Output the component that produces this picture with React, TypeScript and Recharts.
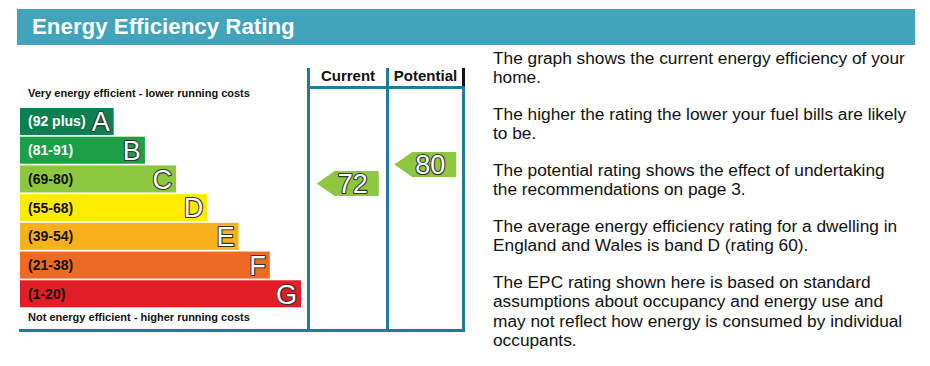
import React from 'react';
import { BarChart, Bar, XAxis, YAxis, ScatterChart, Scatter } from 'recharts';

// bands, best to worst
const bandLetters = ['A', 'B', 'C', 'D', 'E', 'F', 'G'];
const bandRanges = ['(92 plus)', '(81-91)', '(69-80)', '(55-68)', '(39-54)', '(21-38)', '(1-20)'];
const bandMin = [92, 81, 69, 55, 39, 21, 1];
const bandMax = [100, 91, 80, 68, 54, 38, 20];
const bandLength = [30, 40, 50, 60, 70, 80, 90];

const columns = ['Current', 'Potential'];
const ratings = [72, 80];

const paragraphs = [
  ['The graph shows the current energy efficiency of your', 'home.'],
  ['The higher the rating the lower your fuel bills are likely', 'to be.'],
  ['The potential rating shows the effect of undertaking', 'the recommendations on page 3.'],
  ['The average energy efficiency rating for a dwelling in', 'England and Wales is band D (rating 60).'],
  [
    'The EPC rating shown here is based on standard',
    'assumptions about occupancy and energy use and',
    'may not reflect how energy is consumed by individual',
    'occupants.',
  ],
];

const BAND_COLORS = ['#0d8050', '#1d9f45', '#8dc63f', '#ffec00', '#f8b01b', '#ee6a24', '#e11d25'];
const BAND_TEXT = ['#fff', '#fff', '#111', '#111', '#111', '#111', '#111'];
const FRAME = '#1f7aa0';
const FONT = '"Liberation Sans", Arial, sans-serif';

const bandData = bandLetters.map((letter, i) => ({ letter, range: bandRanges[i], length: bandLength[i] }));

// position inside the band stack: band index plus how far below the band top
const bandOf = (r: number) => bandMin.findIndex((min, k) => r >= min && r <= bandMax[k]);
const bandPosition = (r: number) => {
  const i = bandOf(r);
  return i + (bandMax[i] - r) / (bandMax[i] - bandMin[i] + 1);
};

const arrowData = ratings.map((r, i) => ({ col: i, pos: bandPosition(r), rating: r }));

// white glyph with a thin dark outline
const OutlinedText = ({ x, y, anchor, children }: any) => (
  <text
    x={x}
    y={y}
    dy="0.36em"
    textAnchor={anchor}
    fill="#fff"
    stroke="#333"
    strokeWidth={2.2}
    paintOrder="stroke"
    strokeLinejoin="round"
    fontSize={27}
    fontFamily={FONT}
  >
    {children}
  </text>
);

const BandShape = (props: any) => {
  const { x, y, width, height, index, payload } = props;
  const cy = y + height / 2;
  return (
    <g>
      <rect x={x} y={y} width={width} height={height} fill={BAND_COLORS[index]} />
      <text x={x + 8} y={cy} dy="0.35em" fill={BAND_TEXT[index]} fontSize={14} fontWeight="bold" fontFamily={FONT}>
        {payload.range}
      </text>
      <OutlinedText x={x + width - 4} y={cy} anchor="end">
        {payload.letter}
      </OutlinedText>
    </g>
  );
};

const ArrowShape = (props: any) => {
  const { cx, cy, payload } = props;
  const c = cx + 1;
  const h = 12.5;
  const pts = [
    [c - 31, cy],
    [c - 13, cy - h],
    [c + 31, cy - h],
    [c + 31, cy + h],
    [c - 13, cy + h],
  ]
    .map((p) => p.join(','))
    .join(' ');
  return (
    <g>
      <polygon points={pts} fill={BAND_COLORS[bandOf(payload.rating)]} />
      <OutlinedText x={c + 5} y={cy} anchor="middle">
        {payload.rating}
      </OutlinedText>
    </g>
  );
};

const line = (left: number, top: number, width: number, height: number, color = FRAME) => (
  <div style={{ position: 'absolute', left, top, width, height, background: color }} />
);

export default function App() {
  return (
    <div
      style={{
        position: 'absolute',
        left: 0,
        top: 0,
        width: 930,
        height: 366,
        background: '#fff',
        fontFamily: FONT,
        overflow: 'hidden',
      }}
    >
      <div
        style={{
          position: 'absolute',
          left: 17,
          top: 9,
          width: 898,
          height: 36,
          background: '#41a4ba',
          color: '#fff',
          fontWeight: 'bold',
          fontSize: 22.3,
          lineHeight: '36px',
          paddingLeft: 15,
          boxSizing: 'border-box',
        }}
      >
        Energy Efficiency Rating
      </div>

      <div style={{ position: 'absolute', left: 28, top: 87, fontSize: 11, fontWeight: 'bold', color: '#111', whiteSpace: 'nowrap' }}>
        Very energy efficient - lower running costs
      </div>
      <div style={{ position: 'absolute', left: 28, top: 311, fontSize: 11, fontWeight: 'bold', color: '#111', whiteSpace: 'nowrap' }}>
        Not energy efficient - higher running costs
      </div>

      {/* table frame */}
      {line(307, 68, 3, 264)}
      {line(386, 68, 3, 264)}
      {line(462, 68, 3, 264)}
      {line(462, 68, 3, 20, '#111')}
      {line(307, 86, 158, 3)}
      {line(19, 329, 446, 3)}
      {columns.map((c, i) => (
        <div
          key={c}
          style={{
            position: 'absolute',
            left: i === 0 ? 310 : 389,
            top: 66,
            width: i === 0 ? 76 : 73,
            textAlign: 'center',
            fontSize: 15,
            fontWeight: 'bold',
            color: '#111',
            lineHeight: '20px',
          }}
        >
          {c}
        </div>
      ))}

      <div style={{ position: 'absolute', left: 0, top: 0 }}>
        <BarChart
          layout="vertical"
          width={310}
          height={366}
          data={bandData}
          margin={{ top: 107, bottom: 58, left: 20, right: 9 }}
          barCategoryGap={1}
        >
          <XAxis type="number" domain={[0, 90]} hide />
          <YAxis type="category" dataKey="letter" hide />
          <Bar dataKey="length" isAnimationActive={false} shape={BandShape} />
        </BarChart>
      </div>

      <div style={{ position: 'absolute', left: 0, top: 0 }}>
        <ScatterChart width={930} height={366} margin={{ top: 107, bottom: 58, left: 308, right: 467 }}>
          <XAxis type="number" dataKey="col" domain={[-0.5, 1.5]} hide />
          <YAxis type="number" dataKey="pos" domain={[0, 7]} reversed hide />
          <Scatter data={arrowData} shape={ArrowShape} isAnimationActive={false} />
        </ScatterChart>
      </div>

      <div style={{ position: 'absolute', left: 493, top: 48.5, fontSize: 17.3, color: '#111' }}>
        {paragraphs.map((p, i) => (
          <div key={i} style={{ marginBottom: 17 }}>
            {p.map((l) => (
              <div key={l} style={{ lineHeight: '19.5px', whiteSpace: 'nowrap' }}>
                {l}
              </div>
            ))}
          </div>
        ))}
      </div>
    </div>
  );
}
